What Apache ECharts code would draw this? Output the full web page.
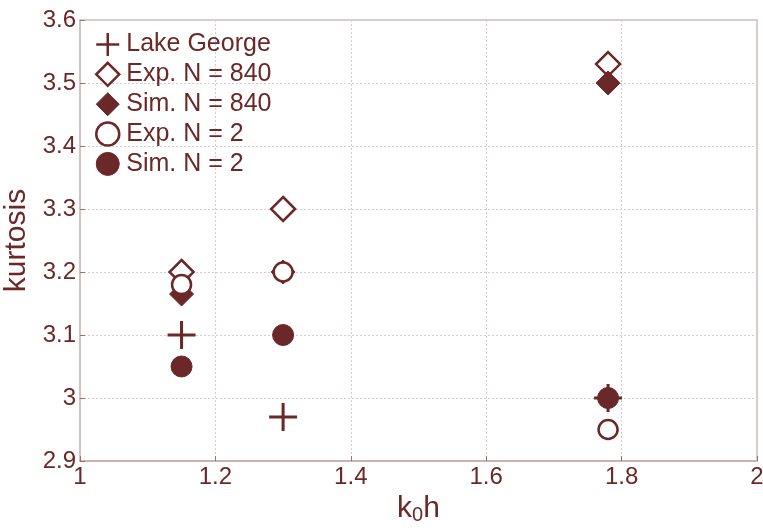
<!DOCTYPE html>
<html>
<head>
<meta charset="utf-8">
<script src="https://cdn.jsdelivr.net/npm/echarts@6/dist/echarts.min.js"></script>
<style>
html,body{margin:0;padding:0;background:#fff;}
#chart{width:763px;height:531px;}
</style>
</head>
<body>
<div id="chart"></div>
<script>
// k0h values shared by every series
var k0h = [1.15, 1.30, 1.78];

// kurtosis values per series
var lakeGeorge = [3.10, 2.97, 3.00];
var exp840 = [3.20, 3.30, 3.53];
var sim840 = [3.165, 3.20, 3.50];
var exp2 = [3.18, 3.20, 2.95];
var sim2 = [3.05, 3.10, 3.00];

var seriesNames = ['Lake George', 'Exp. N = 840', 'Sim. N = 840', 'Exp. N = 2', 'Sim. N = 2'];
var xTicks = [1, 1.2, 1.4, 1.6, 1.8, 2];
var yTicks = [2.9, 3, 3.1, 3.2, 3.3, 3.4, 3.5, 3.6];

var dark = '#6b2828';
var font = 'Liberation Sans, Arial, sans-serif';
var plusPath = 'path://M0,10.7 L10.7,10.7 L10.7,0 L13.3,0 L13.3,10.7 L24,10.7 L24,13.3 L13.3,13.3 L13.3,24 L10.7,24 L10.7,13.3 L0,13.3 Z';
var diamondPath = 'path://M12,0 L24,12 L12,24 L0,12 Z';

function pairs(ys) {
  return k0h.map(function (x, i) { return [x, ys[i]]; });
}

function tickText(v) {
  return String(Math.round(v * 10) / 10);
}

var chart = echarts.init(document.getElementById('chart'));

chart.setOption({
  animation: false,
  backgroundColor: '#fff',
  textStyle: { fontFamily: font, color: dark },
  grid: {
    left: 80, right: 6, top: 20, bottom: 70,
    outerBoundsMode: 'none', containLabel: false,
    show: true, borderColor: '#d3bcbc', borderWidth: 1.5
  },
  legend: {
    left: 90, top: 27, orient: 'vertical',
    itemGap: 4.6, itemWidth: 27, itemHeight: 23,
    textStyle: { fontSize: 25, color: dark, fontFamily: font },
    data: [
      { name: seriesNames[0], icon: plusPath, itemStyle: { color: dark, borderWidth: 0 } },
      { name: seriesNames[1], icon: diamondPath, itemStyle: { color: '#fff', borderColor: dark, borderWidth: 2.5 } },
      { name: seriesNames[2], icon: diamondPath, itemStyle: { color: dark, borderColor: dark, borderWidth: 1 } },
      { name: seriesNames[3], icon: 'circle', itemStyle: { color: '#fff', borderColor: dark, borderWidth: 2.5 } },
      { name: seriesNames[4], icon: 'circle', itemStyle: { color: dark, borderColor: dark, borderWidth: 1 } }
    ]
  },
  xAxis: {
    type: 'value', min: xTicks[0], max: xTicks[xTicks.length - 1], interval: 0.2,
    name: '{k|k}{s|0}{k|h}', nameLocation: 'middle', nameGap: 29,
    nameTextStyle: {
      rich: {
        k: { fontSize: 30, color: dark, fontFamily: font },
        s: { fontSize: 20, color: dark, verticalAlign: 'bottom', padding: [14, 0, 0, 0], fontFamily: font }
      }
    },
    axisLine: { show: true, lineStyle: { color: '#c6a9a9', width: 1.5 } },
    axisTick: { show: true, inside: true, length: 5, lineStyle: { color: '#9a7070' } },
    axisLabel: { fontSize: 24, color: dark, margin: 4, formatter: tickText },
    splitLine: { show: true, lineStyle: { color: '#d8caca', type: [2, 2], width: 1 } }
  },
  yAxis: {
    type: 'value', min: yTicks[0], max: yTicks[yTicks.length - 1], interval: 0.1,
    name: 'kurtosis', nameLocation: 'middle', nameGap: 45,
    nameTextStyle: { fontSize: 30, color: dark, fontFamily: font },
    axisLine: { show: true, lineStyle: { color: '#d3bcbc', width: 1.5 } },
    axisTick: { show: true, inside: true, length: 5, lineStyle: { color: '#9a7070' } },
    axisLabel: { fontSize: 24, color: dark, margin: 4, formatter: tickText },
    splitLine: { show: true, lineStyle: { color: '#d8caca', type: [2, 2], width: 1 } }
  },
  series: [
    {
      name: seriesNames[0], type: 'scatter', symbol: plusPath, symbolSize: 28,
      itemStyle: { color: dark, opacity: 1 }, data: pairs(lakeGeorge), z: 2
    },
    {
      name: seriesNames[1], type: 'scatter', symbol: diamondPath, symbolSize: [24, 24],
      itemStyle: { color: '#fff', borderColor: dark, borderWidth: 2.5, opacity: 1 }, data: pairs(exp840), z: 3
    },
    {
      name: seriesNames[2], type: 'scatter', symbol: diamondPath, symbolSize: [24, 24],
      itemStyle: { color: dark, borderColor: dark, borderWidth: 1, opacity: 1 }, data: pairs(sim840), z: 4
    },
    {
      name: seriesNames[3], type: 'scatter', symbol: 'circle', symbolSize: 19,
      itemStyle: { color: '#fff', borderColor: dark, borderWidth: 2.5, opacity: 1 }, data: pairs(exp2), z: 5
    },
    {
      name: seriesNames[4], type: 'scatter', symbol: 'circle', symbolSize: 21,
      itemStyle: { color: dark, borderColor: dark, borderWidth: 1, opacity: 1 }, data: pairs(sim2), z: 6
    }
  ]
});
</script>
</body>
</html>
